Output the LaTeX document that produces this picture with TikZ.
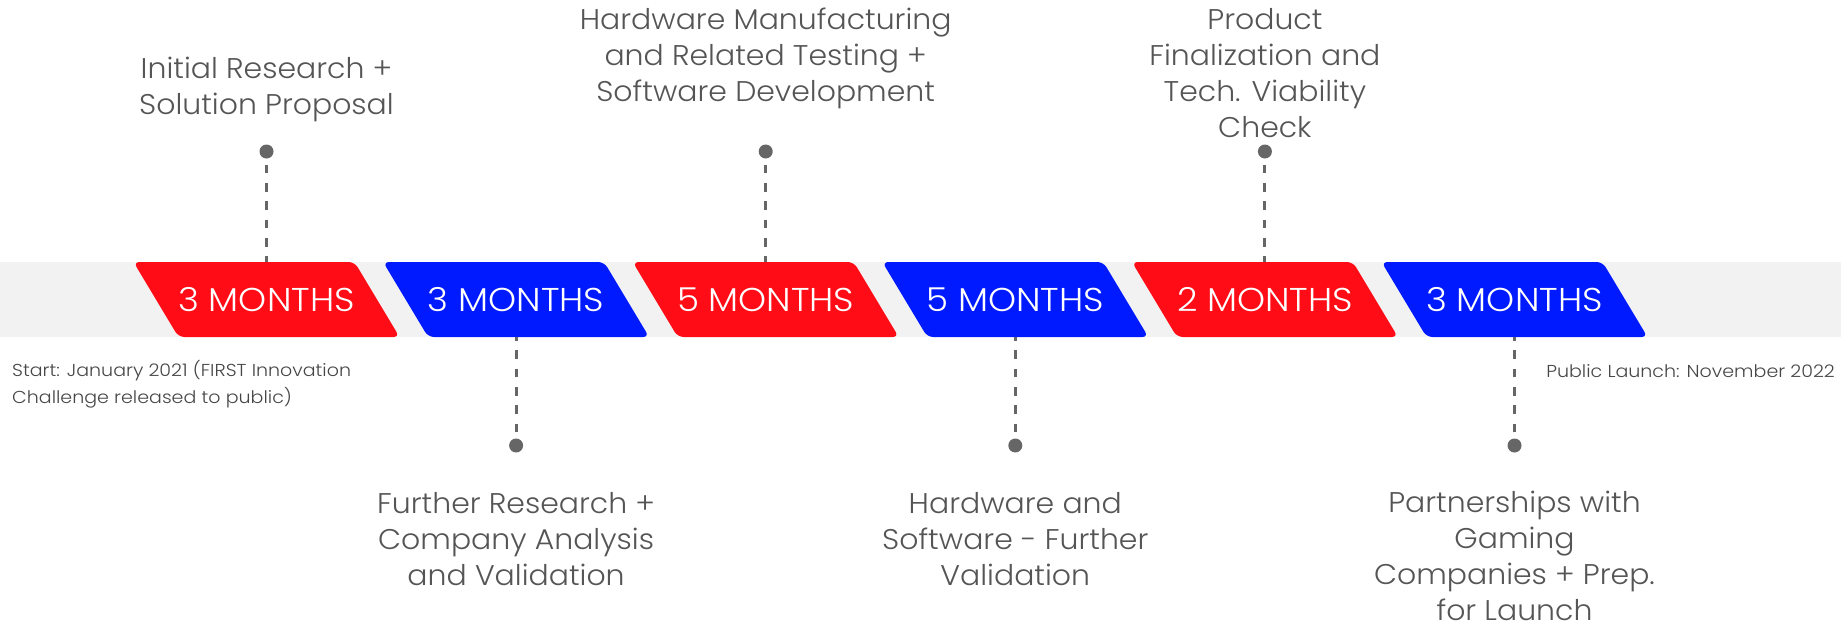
\documentclass[tikz,border=0pt]{standalone}
\usepackage{fontspec}
\setmainfont{Poppins Light}[FakeStretch=1.05]
\newfontfamily\monthfont{Poppins Light}[FakeStretch=1.08]
\newfontfamily\notefont{Poppins Light}[FakeStretch=1.1]
\definecolor{tlred}{RGB}{255,12,22}
\definecolor{tlblue}{RGB}{0,26,255}
\definecolor{bandgray}{RGB}{242,242,242}
\definecolor{dotgray}{RGB}{102,102,102}
\definecolor{textgray}{RGB}{85,85,85}
\definecolor{notegray}{RGB}{70,70,70}
\begin{document}
\begin{tikzpicture}[x=1pt,y=-1pt,
  monthbox/.style={minimum height=75pt, minimum width=180pt, inner sep=0pt,
    text=white, font=\monthfont\fontsize{33}{36}\selectfont},
  stagedot/.style={circle, fill=dotgray, inner sep=0pt, minimum size=14pt},
  stageline/.style={draw=dotgray, line width=3pt,
    dash pattern=on 8.7pt off 9.6pt, dash phase=12.3pt},
  stagetext/.style={align=center, text=textgray, inner sep=0pt, anchor=base,
    font=\fontsize{28.5}{36}\selectfont},
  sidenote/.style={text=notegray, inner sep=0pt, font=\notefont\fontsize{17.3}{27}\selectfont}
]
\useasboundingbox (0,0) rectangle (1841,627);
% grey timeline band
\fill[bandgray] (0,262) rectangle (1841,337);

% slanted phase blocks
\foreach \i/\c/\t in {0/tlred/3, 1/tlblue/3, 2/tlred/5, 3/tlblue/5, 4/tlred/2, 5/tlblue/3} {
  \pgfmathsetmacro{\xa}{133.5+249.6*\i}
  \fill[\c, rounded corners=6pt] (\xa,262) -- (\xa+221,262) -- (\xa+266,337) -- (\xa+45,337) -- cycle;
  \node[monthbox] (m\i) at (\xa+133,299.5) {\t\ MONTHS};
}

% milestone dots
\node[stagedot] (d0) at (m0 |- 0,151.5) {};
\node[stagedot] (d1) at (m1 |- 0,445.5) {};
\node[stagedot] (d2) at (m2 |- 0,151.5) {};
\node[stagedot] (d3) at (m3 |- 0,445.5) {};
\node[stagedot] (d4) at (m4 |- 0,151.5) {};
\node[stagedot] (d5) at (m5 |- 0,445.5) {};

% dashed leaders, each starting at its dot
\draw[stageline] (d0) -- (m0.north);
\draw[stageline] (d2) -- (m2.north);
\draw[stageline] (d4) -- (m4.north);
\draw[stageline] (d1) -- (m1.south);
\draw[stageline] (d3) -- (m3.south);
\draw[stageline] (d5) -- (m5.south);

% milestone captions (anchored on the baseline of the last line)
\node[stagetext] (t0) at (m0 |- 0,114) {Initial Research +\\Solution Proposal};
\node[stagetext] (t2) at (m2 |- 0,101) {Hardware Manufacturing\\and Related Testing +\\Software Development};
\node[stagetext] (t4) at (m4 |- 0,137) {Product\\Finalization and\\Tech. Viability\\Check};
\node[stagetext] (t1) at (m1 |- 0,585) {Further Research +\\Company Analysis\\and Validation};
\node[stagetext] (t3) at (m3 |- 0,585) {Hardware and\\Software - Further\\Validation};
\node[stagetext] (t5) at (m5 |- 0,620.5) {Partnerships with\\Gaming\\Companies + Prep.\\for Launch};

% start and end notes
\node[sidenote, anchor=base west, align=left] (start) at (12,403)
  {Start: January 2021 (FIRST Innovation\\Challenge released to public)};
\node[sidenote, anchor=base east] (launch) at (1835,377) {Public Launch: November 2022};
\end{tikzpicture}
\end{document}
